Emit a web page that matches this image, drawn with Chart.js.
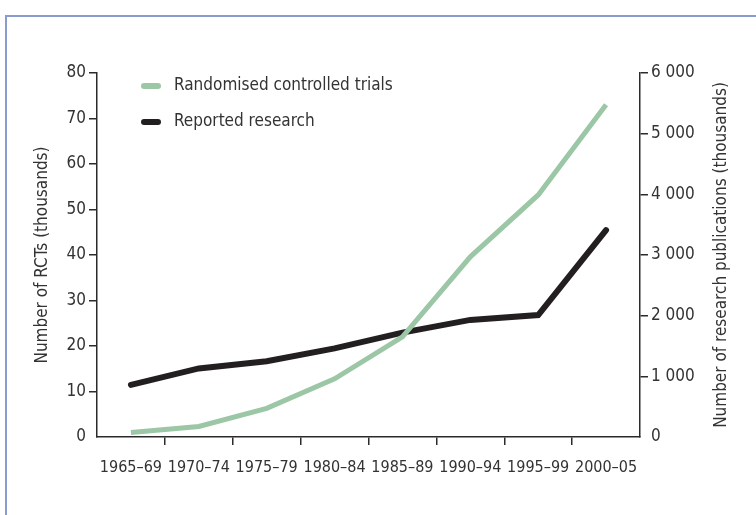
<!DOCTYPE html>
<html>
<head>
<meta charset="utf-8">
<script src="https://cdn.jsdelivr.net/npm/chart.js@4"></script>
<style>
  html, body { margin: 0; padding: 0; background: #fff; }
  #frame {
    position: absolute; left: 5px; top: 15px; right: 0; bottom: 0;
    border-top: 2px solid #8a9bd0; border-left: 2px solid #8a9bd0;
  }
  #wrap { position: absolute; left: 0; top: 0; width: 756px; height: 515px; }
</style>
</head>
<body>
<div id="frame"></div>
<div id="wrap"><canvas id="graph"></canvas></div>
<script>
  const FONT = '"DejaVu Sans Condensed", "Liberation Sans Narrow", "Open Sans", sans-serif';

  let periods = ["1965–69", "1970–74", "1975–79", "1980–84", "1985–89", "1990–94", "1995–99", "2000–05"];
  let rcts = [1.0, 2.3, 6.3, 12.8, 22.0, 39.6, 53.2, 73.0];
  let research = [860, 1130, 1250, 1460, 1720, 1930, 2010, 3410];

  const axisColor = "#2b2b2b";
  const textColor = "#333333";

  // no tick at the axis corners (first tick, and the extra offset line at the end)
  const tickColor = (ctx) => (ctx.index === undefined || ctx.index === 0) ? "rgba(0,0,0,0)" : axisColor;

  const extras = {
    id: "extras",
    afterDraw(chart) {
      const c = chart.ctx;
      const ds = chart.data.datasets;
      const items = [
        { y: 86, color: ds[0].borderColor, text: ds[0].label },
        { y: 122, color: ds[1].borderColor, text: ds[1].label },
      ];
      c.save();
      c.font = "17px " + FONT;
      c.fillStyle = textColor;
      c.textBaseline = "middle";
      items.forEach((it) => {
        c.strokeStyle = it.color;
        c.lineWidth = 6;
        c.lineCap = "round";
        c.beginPath();
        c.moveTo(144, it.y);
        c.lineTo(158, it.y);
        c.stroke();
        c.fillText(it.text, 174, it.y);
      });

      // right axis title reads bottom to top, like the left one
      const area = chart.chartArea;
      c.translate(722, (area.top + area.bottom) / 2);
      c.rotate(-Math.PI / 2);
      c.textAlign = "center";
      c.fillText("Number of research publications (thousands)", 0, 0);
      c.restore();
    },
  };

  Chart.defaults.font.family = FONT;
  Chart.defaults.color = textColor;

  new Chart(document.getElementById("graph").getContext("2d"), {
    type: "line",
    data: {
      labels: periods,
      datasets: [
        {
          label: "Randomised controlled trials",
          data: rcts,
          yAxisID: "y",
          borderColor: "rgb(156, 199, 166)",
          borderWidth: 5,
          borderCapStyle: "butt",
          tension: 0,
          pointRadius: 0,
        },
        {
          label: "Reported research",
          data: research,
          yAxisID: "y2",
          borderColor: "rgb(35, 31, 32)",
          borderWidth: 6,
          borderCapStyle: "round",
          tension: 0,
          pointRadius: 0,
        },
      ],
    },
    options: {
      responsive: true,
      maintainAspectRatio: false,
      animation: false,
      layout: { padding: { top: 73, left: 0, right: 0, bottom: 0 } },
      plugins: { legend: { display: false }, tooltip: { enabled: false } },
      scales: {
        x: {
          offset: true,
          grid: {
            offset: true,
            drawOnChartArea: false,
            tickLength: 8,
            lineWidth: 1.5,
            color: tickColor,
          },
          border: { color: axisColor, width: 1.5 },
          ticks: { padding: 13, maxRotation: 0, font: { size: 16 }, color: textColor },
          afterFit: (s) => { s.height = 78; },
        },
        y: {
          position: "left",
          min: 0,
          max: 80,
          ticks: { stepSize: 10, padding: 3, font: { size: 17 }, color: textColor },
          grid: { drawOnChartArea: false, tickLength: 8, lineWidth: 1.5, color: tickColor },
          border: { color: axisColor, width: 1.5 },
          title: {
            display: true,
            text: "Number of RCTs (thousands)",
            font: { size: 17 },
            color: textColor,
            padding: { top: 32, bottom: 0 },
          },
          afterFit: (s) => { s.width = 97; },
        },
        y2: {
          position: "right",
          min: 0,
          max: 6000,
          ticks: {
            stepSize: 1000,
            padding: 3,
            font: { size: 17 },
            color: textColor,
            callback: (v) => v === 0 ? "0" : String(v).replace(/(\d)(\d{3})$/, "$1 $2"),
          },
          grid: { drawOnChartArea: false, tickLength: 8, lineWidth: 1.5, color: tickColor },
          border: { color: axisColor, width: 1.5 },
          afterFit: (s) => { s.width = 116; },
        },
      },
    },
    plugins: [extras],
  });
</script>
</body>
</html>
